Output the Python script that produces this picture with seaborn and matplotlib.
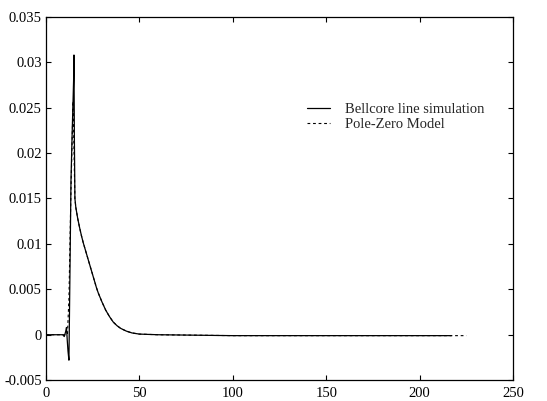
import numpy as np
import pandas as pd
import matplotlib
matplotlib.use("Agg")
import matplotlib.pyplot as plt
import seaborn as sns

# Bellcore line simulation (solid)
bell_x = [0, 9, 9.8, 10.5, 11.0, 11.4, 11.8, 12.3, 12.8, 13.4, 14.0, 14.5, 14.8, 15.0, 15.2, 15.5,
          16, 17, 18, 19, 20, 21, 22, 23, 24, 25, 26, 27, 28, 30, 32, 34, 36, 38, 40, 43, 46, 50,
          60, 80, 100, 150, 217]
bell_y = [0, 0, -0.0002, 0.0003, 0.0008, -0.0006, -0.0018, -0.0028, 0.006, 0.017, 0.022, 0.0257,
          0.028, 0.0308, 0.022, 0.0150,
          0.0140, 0.0128, 0.0118, 0.0109, 0.0101, 0.0094, 0.0087, 0.0080, 0.0073, 0.0066, 0.0059,
          0.0052, 0.0046, 0.0036, 0.0027, 0.0020, 0.0014, 0.0010, 0.0007, 0.0004, 0.0002, 0.00007,
          0.0, -0.00005, -0.0001, -0.0001, -0.0001]

# Pole-Zero Model (dashed)
pz_x = [0, 11.5, 12.3, 13.4, 14.5, 15.5,
        16, 17, 18, 19, 20, 21, 22, 23, 24, 25, 26, 27, 28, 30, 32, 34, 36, 38, 40, 43, 46, 50,
        60, 80, 100, 150, 225]
pz_y = [0, 0, 0.004, 0.016, 0.0257, 0.0150,
        0.0140, 0.0128, 0.0118, 0.0109, 0.0101, 0.0094, 0.0087, 0.0080, 0.0073, 0.0066, 0.0059,
        0.0052, 0.0046, 0.0036, 0.0027, 0.0020, 0.0014, 0.0010, 0.0007, 0.0004, 0.0002, 0.00007,
        0.0, -0.00005, -0.0001, -0.0001, -0.0001]

xticks = [0, 50, 100, 150, 200, 250]
yticks = [-0.005, 0, 0.005, 0.01, 0.015, 0.02, 0.025, 0.03, 0.035]
ytick_labels = ["-0.005", "0", "0.005", "0.01", "0.015", "0.02", "0.025", "0.03", "0.035"]

sns.set_style("ticks")
plt.rcParams['font.family'] = ['Liberation Serif', 'DejaVu Serif']

df = pd.concat([
    pd.DataFrame({"x": bell_x, "y": bell_y, "series": "Bellcore line simulation"}),
    pd.DataFrame({"x": pz_x, "y": pz_y, "series": "Pole-Zero Model"}),
])

fig = plt.figure(figsize=(5.47, 4.01), dpi=100)
ax = fig.add_axes([0.084, 0.052, 0.854, 0.906])

sns.lineplot(data=df[df.series == "Pole-Zero Model"], x="x", y="y", ax=ax, color="black",
             linewidth=0.8, linestyle=(0, (2.5, 2.5)), label="Pole-Zero Model", sort=False,
             estimator=None)
sns.lineplot(data=df[df.series == "Bellcore line simulation"], x="x", y="y", ax=ax, color="black",
             linewidth=0.9, label="Bellcore line simulation", sort=False, estimator=None)

ax.set_xlim(0, 250)
ax.set_ylim(-0.005, 0.035)
ax.set_xticks(xticks)
ax.set_xticklabels([str(t) for t in xticks])
ax.set_yticks(yticks)
ax.set_yticklabels(ytick_labels)
ax.set_xlabel("")
ax.set_ylabel("")
ax.tick_params(direction="in", length=3.5, width=0.8, top=True, right=True, labelsize=10.5,
               colors="black", pad=3)
ax.tick_params(axis="x", pad=5)
for s in ax.spines.values():
    s.set_linewidth(0.9)
    s.set_color("black")

h, l = ax.get_legend_handles_labels()
order = [l.index("Bellcore line simulation"), l.index("Pole-Zero Model")]
ax.legend([h[i] for i in order], [l[i] for i in order], loc="upper left",
          bbox_to_anchor=(0.531, 0.80), frameon=False, fontsize=10.5, handlelength=1.6,
          handletextpad=1.0, labelspacing=0.15)

fig.savefig("out.png", dpi=100)
